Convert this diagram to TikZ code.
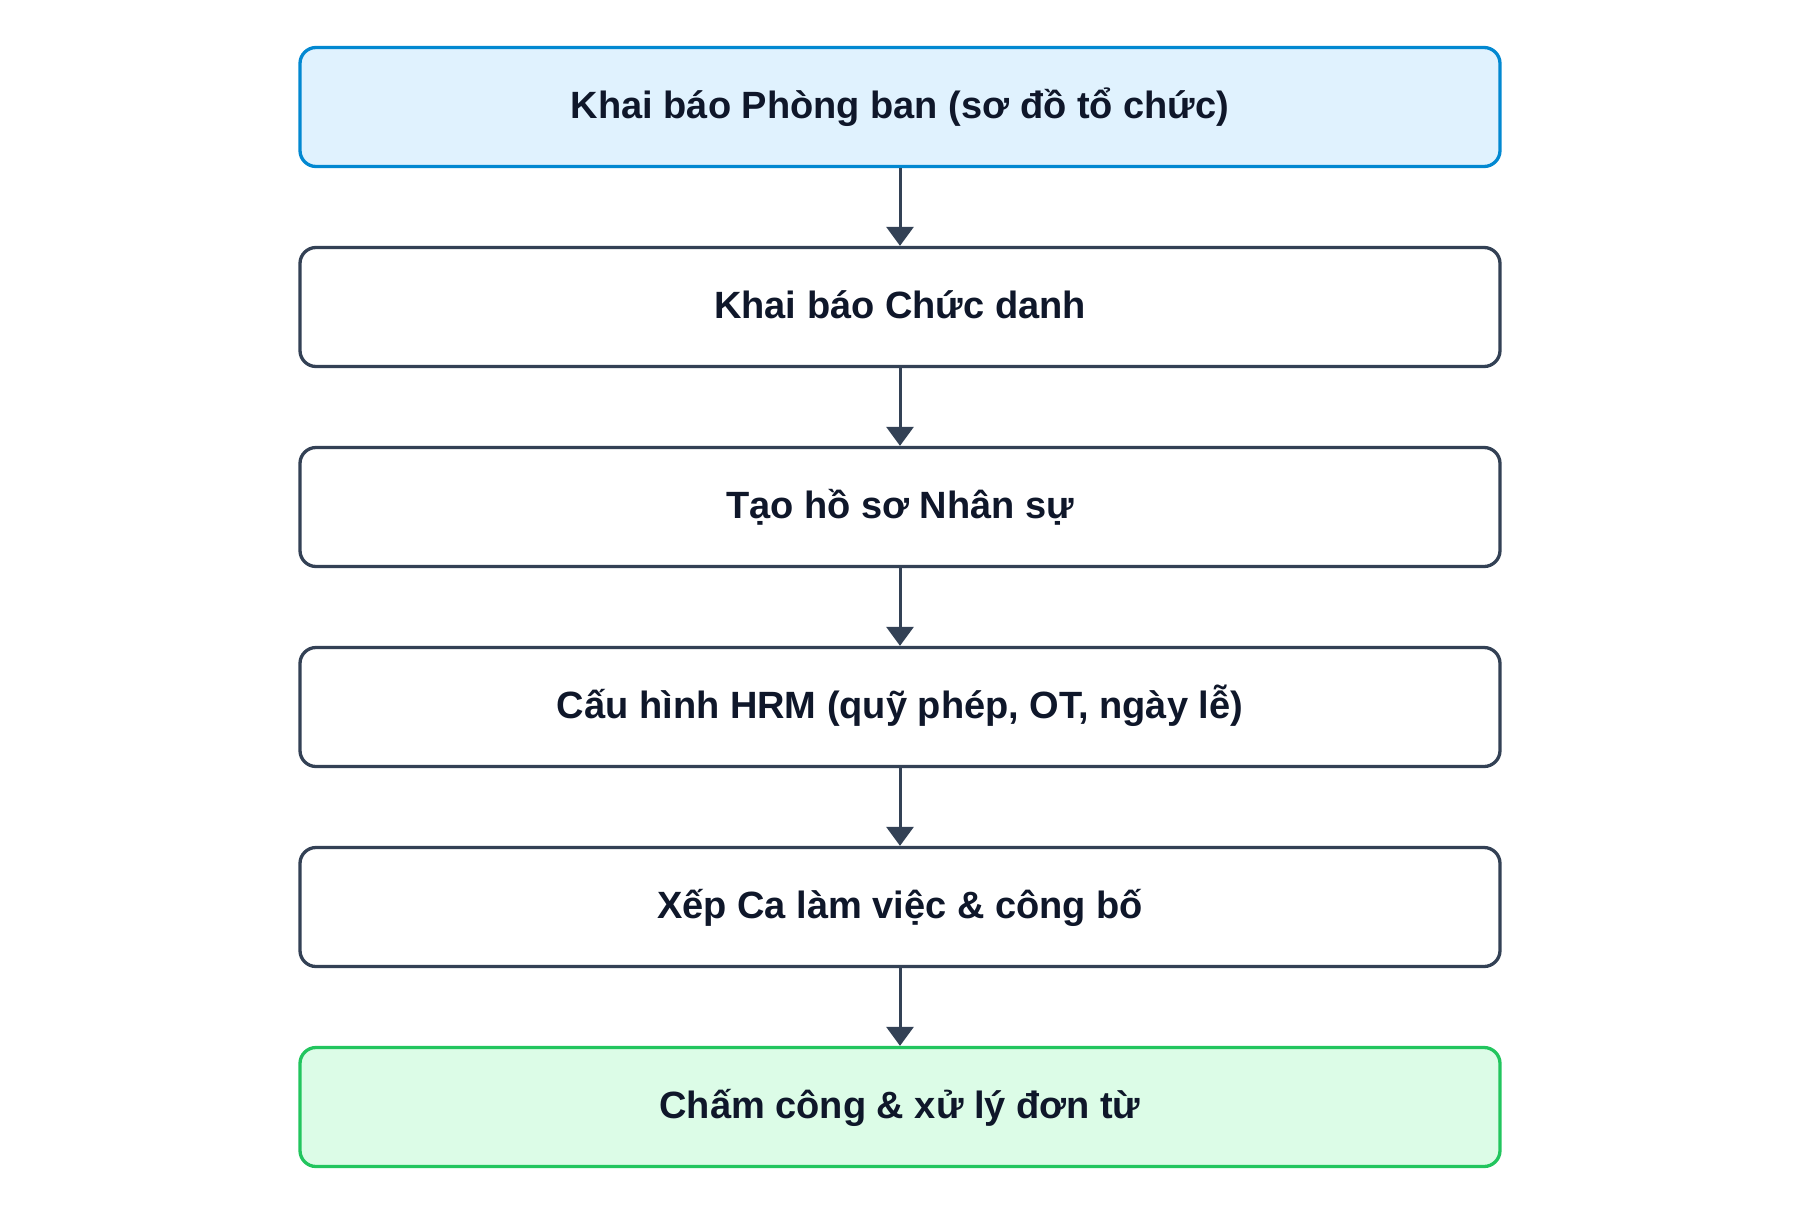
\documentclass[tikz,border=0pt]{standalone}
\usepackage{fontspec}
\setmainfont{Liberation Sans}
\usetikzlibrary{arrows.meta,positioning}
\definecolor{txt}{HTML}{0F172A}
\definecolor{slate}{HTML}{334155}
\definecolor{bluefill}{HTML}{E0F2FE}
\definecolor{bluestroke}{HTML}{0288D1}
\definecolor{greenfill}{HTML}{DCFCE7}
\definecolor{greenstroke}{HTML}{22C55E}
\tikzset{
  stepbox/.style={draw=slate, fill=white, line width=3.3pt, rounded corners=16pt,
    minimum width=1200pt, minimum height=119pt, inner sep=0pt,
    text=txt, font=\fontsize{38}{45}\selectfont\bfseries,
    text height=32pt, text depth=10pt},
  startbox/.style={stepbox, draw=bluestroke, fill=bluefill},
  endbox/.style={stepbox, draw=greenstroke, fill=greenfill},
  flow/.style={draw=slate, line width=3pt, -{Triangle[width=27pt,length=19pt]}}
}
\begin{document}
\begin{tikzpicture}[x=1pt,y=-1pt]
\useasboundingbox (0,0) rectangle (1800,1216);
\node[startbox] (b1) at (900,107) {Khai báo Phòng ban (sơ đồ tổ chức)};
\node[stepbox]  (b2) at (900,307) {Khai báo Chức danh};
\node[stepbox]  (b3) at (900,507) {Tạo hồ sơ Nhân sự};
\node[stepbox]  (b4) at (900,707) {Cấu hình HRM (quỹ phép, OT, ngày lễ)};
\node[stepbox]  (b5) at (900,907) {Xếp Ca làm việc \& công bố};
\node[endbox]   (b6) at (900,1107) {Chấm công \& xử lý đơn từ};
\draw[flow] (b1.south) -- (b2.north);
\draw[flow] (b2.south) -- (b3.north);
\draw[flow] (b3.south) -- (b4.north);
\draw[flow] (b4.south) -- (b5.north);
\draw[flow] (b5.south) -- (b6.north);
\end{tikzpicture}
\end{document}
